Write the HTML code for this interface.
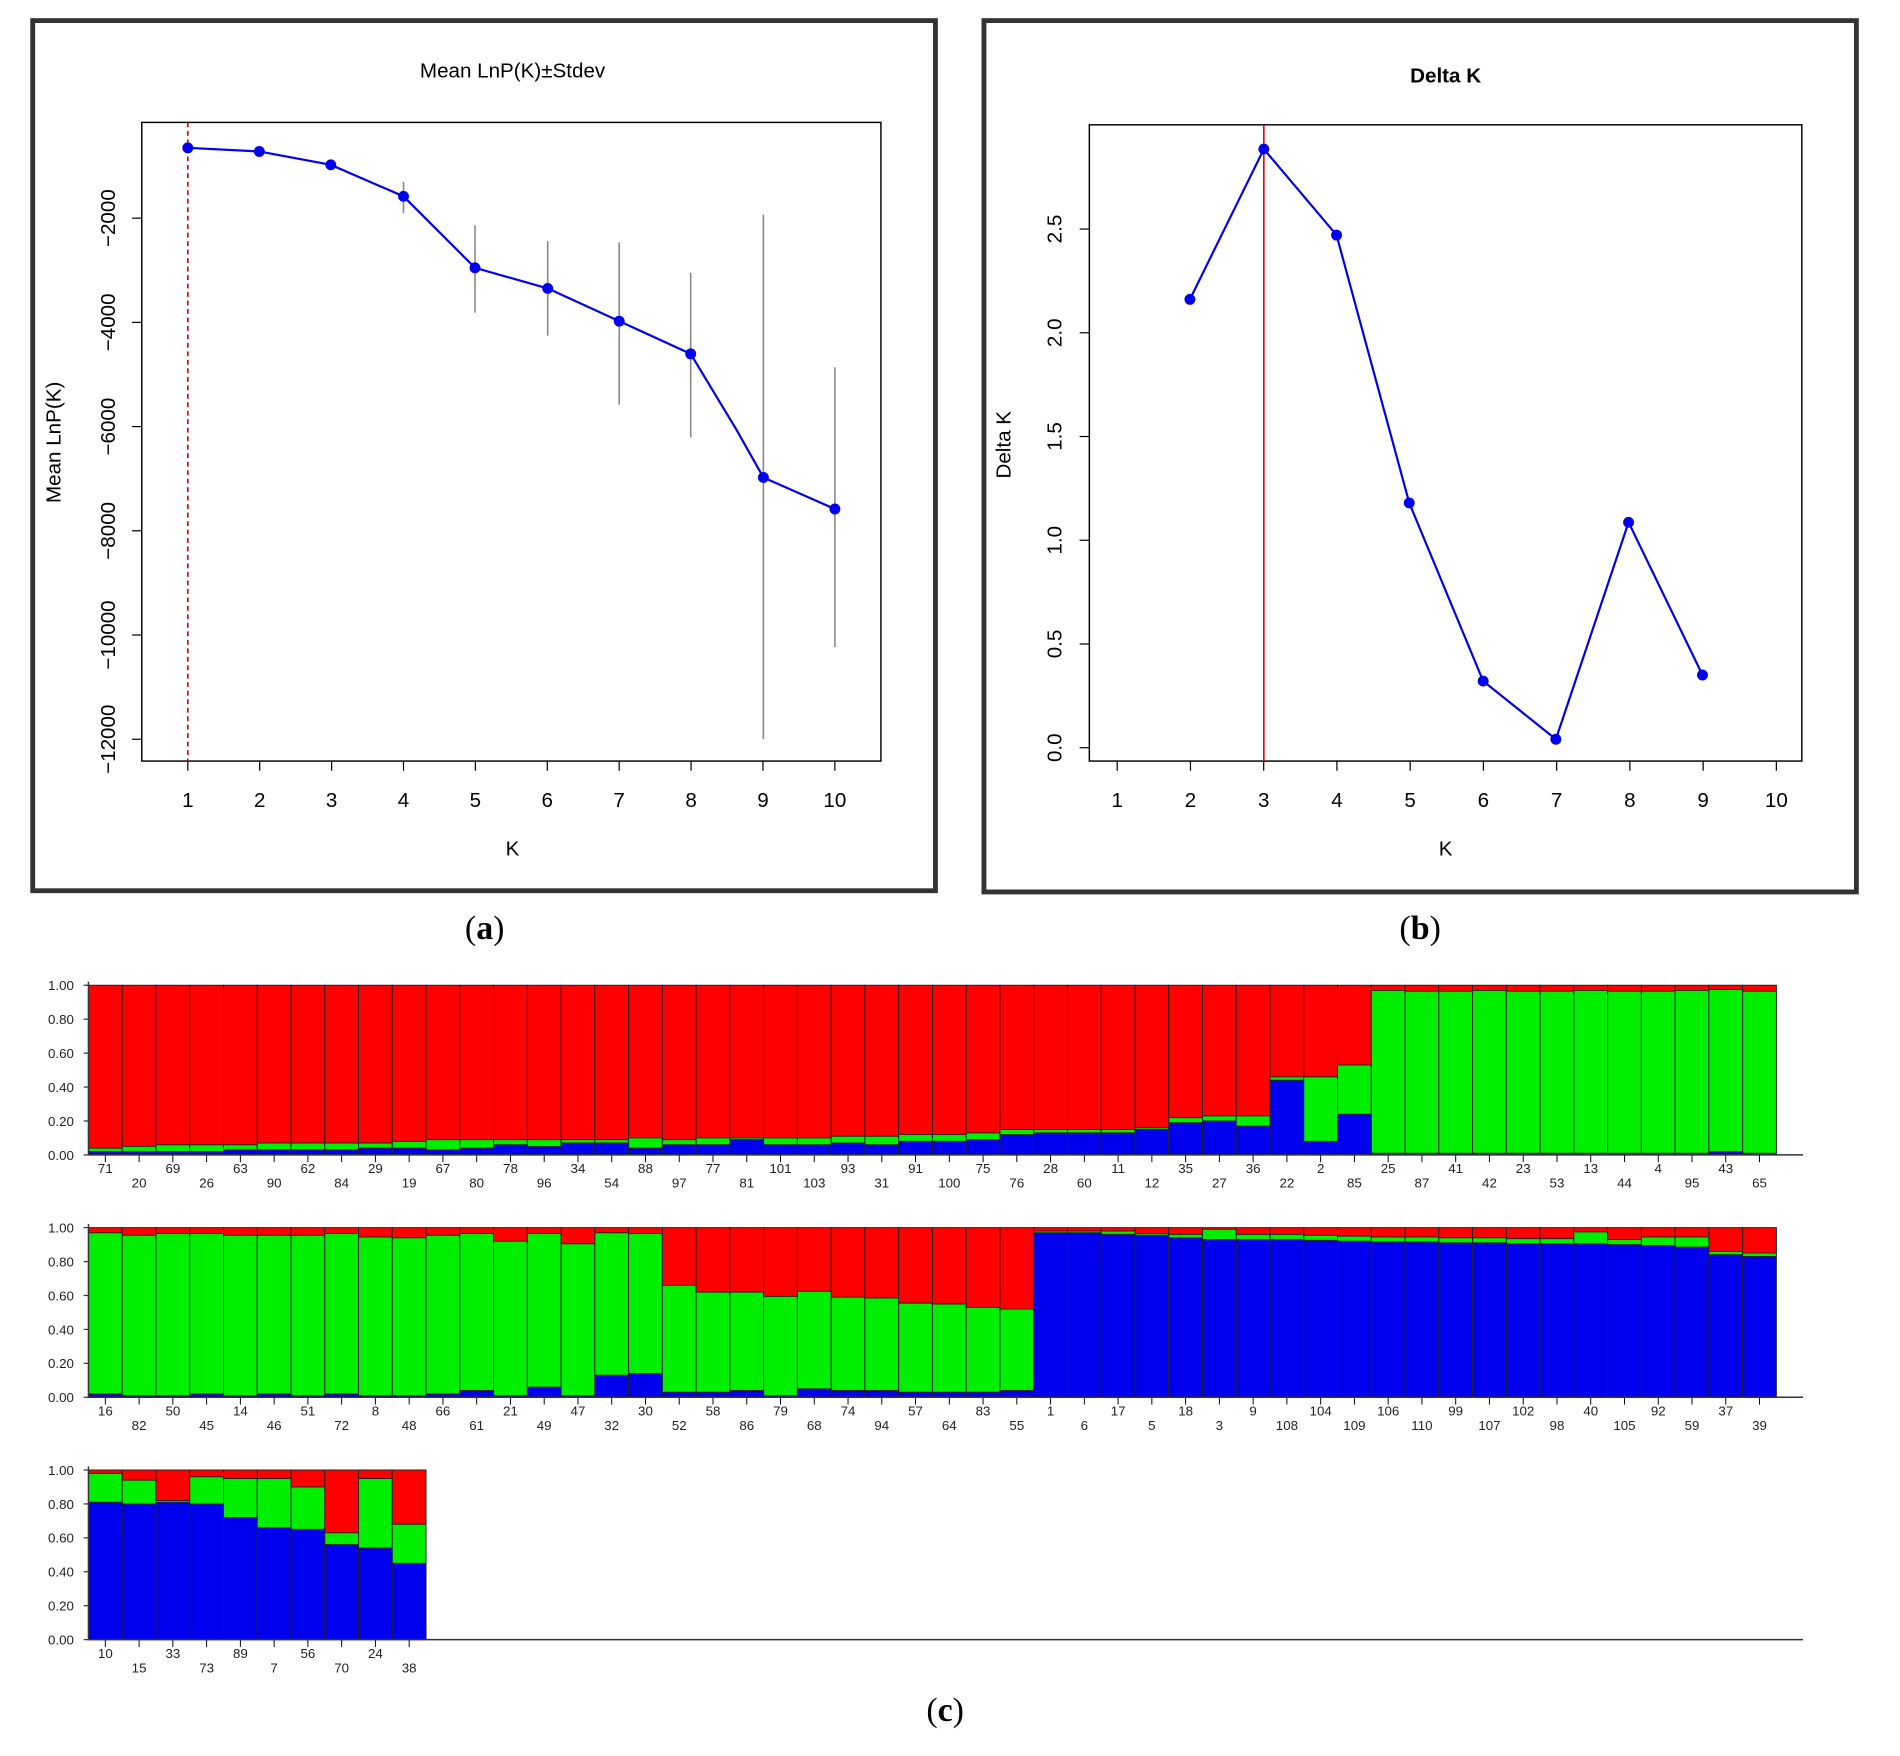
<!DOCTYPE html>
<html><head><meta charset="utf-8">
<style>html,body{margin:0;padding:0;background:#fff}svg{display:block}</style></head>
<body>
<svg id="s" xmlns="http://www.w3.org/2000/svg" width="1900" height="1756" viewBox="0 0 1568 1449" preserveAspectRatio="none" font-family="Liberation Sans, sans-serif">
<rect width="1568" height="1449" fill="#fff"/>
<!-- panel a -->
<rect x="27" y="17" width="745" height="718" fill="none" stroke="#333" stroke-width="4"/>
<text x="423" y="64" font-size="17" text-anchor="middle">Mean LnP(K)±Stdev</text>
<rect x="117" y="101" width="610" height="527" fill="none" stroke="#000" stroke-width="1.2"/>
<line x1="155" y1="101" x2="155" y2="628" stroke="#c00" stroke-width="1.3" stroke-dasharray="4,3"/>
<g id="aerr" stroke="#888" stroke-width="1.3"></g>
<polyline fill="none" stroke="#0000ee" stroke-width="1.8" points="155,122 214,125 273,136 333,162 392,221 452,238 511,265 570,292 608,355 630,394 689,420"/>
<g id="apts" fill="#0000ee"></g>
<g id="axa" font-size="17" text-anchor="middle"></g>
<text x="423" y="706" font-size="17" text-anchor="middle">K</text>
<text transform="translate(50,365) rotate(-90)" font-size="17" text-anchor="middle">Mean LnP(K)</text>
<!-- panel b -->
<rect x="812" y="17" width="720" height="719" fill="none" stroke="#333" stroke-width="4"/>
<text x="1193" y="68" font-size="17" font-weight="bold" text-anchor="middle">Delta K</text>
<rect x="899" y="103" width="588" height="525" fill="none" stroke="#000" stroke-width="1.2"/>
<line x1="1043" y1="103" x2="1043" y2="628" stroke="#d00" stroke-width="1.3"/>
<polyline fill="none" stroke="#0000ee" stroke-width="1.8" points="982,247 1043,123 1103,194 1163,415 1224,562 1284,610 1344,431 1405,557"/>
<g id="bpts" fill="#0000ee"></g>
<g id="axb" font-size="17" text-anchor="middle"></g>
<text x="1193" y="706" font-size="17" text-anchor="middle">K</text>
<text transform="translate(834,367) rotate(-90)" font-size="17" text-anchor="middle">Delta K</text>
<g font-family="Liberation Serif, serif" font-size="28" text-anchor="middle">
<text x="400" y="775">(<tspan font-weight="bold">a</tspan>)</text>
<text x="1172" y="775">(<tspan font-weight="bold">b</tspan>)</text>
<text x="780" y="1420">(<tspan font-weight="bold">c</tspan>)</text>
</g>
<g id="bars"></g>
</svg>
<script>
var NS="http://www.w3.org/2000/svg";
function el(p,t,a,txt){var e=document.createElementNS(NS,t);for(var k in a)e.setAttribute(k,a[k]);if(txt!==undefined)e.textContent=txt;document.getElementById(p).appendChild(e);return e;}
var ap=[[155,122],[214,125],[273,136],[333,162],[392,221],[452,238],[511,265],[570,292],[630,394],[689,420]];
var er=[[333,150,176],[392,186,258],[452,199,277],[511,200,334],[570,225,361],[630,177,610],[689,303,534]];
er.forEach(function(e){el("aerr","line",{x1:e[0],x2:e[0],y1:e[1],y2:e[2]});});
ap.forEach(function(p){el("apts","circle",{cx:p[0],cy:p[1],r:4.5});});
for(var i=0;i<10;i++){var x=155+i*59.33;el("axa","line",{x1:x,x2:x,y1:628,y2:636,stroke:"#000"});el("axa","text",{x:x,y:666},String(i+1));}
var yl=[-2000,-4000,-6000,-8000,-10000,-12000];
yl.forEach(function(v,i){var y=180+i*86;el("axa","line",{x1:109,x2:117,y1:y,y2:y,stroke:"#000"});el("axa","text",{transform:"translate(95,"+y+") rotate(-90)"},"\u2212"+String(-v));});
[[982,247],[1043,123],[1103,194],[1163,415],[1224,562],[1284,610],[1344,431],[1405,557]].forEach(function(p){el("bpts","circle",{cx:p[0],cy:p[1],r:4.5});});
for(var i=0;i<10;i++){var x=922+i*60.44;el("axb","line",{x1:x,x2:x,y1:628,y2:636,stroke:"#000"});el("axb","text",{x:x,y:666},String(i+1));}
for(var i=0;i<6;i++){var y=617-i*85.6;el("axb","line",{x1:891,x2:899,y1:y,y2:y,stroke:"#000"});el("axb","text",{transform:"translate(876,"+y+") rotate(-90)"},(i*0.5).toFixed(1));}
var r1=[["71",.02,.02],["20",.02,.03],["69",.02,.04],["26",.02,.04],["63",.03,.03],["90",.03,.04],["62",.03,.04],["84",.03,.04],["29",.04,.03],["19",.04,.04],["67",.03,.06],["80",.04,.05],["78",.06,.03],["96",.05,.04],["34",.07,.02],["54",.07,.02],["88",.04,.06],["97",.06,.03],["77",.06,.04],["81",.09,.01],["101",.06,.04],["103",.06,.04],["93",.07,.04],["31",.06,.05],["91",.08,.04],["100",.08,.04],["75",.09,.04],["76",.12,.03],["28",.13,.02],["60",.13,.02],["11",.13,.02],["12",.15,.01],["35",.19,.03],["27",.20,.03],["36",.17,.06],["22",.44,.02],["2",.08,.38],["85",.24,.29]];
["25","87","41","42","23","53","13","44","4","95","43","65"].forEach(function(l,i){r1.push([l,i==10?.02:.01,i%3==0?.96:.955]);});
var r2=[];
["16","82","50","45","14","46","51","72","8","48","66","61"].forEach(function(l,i){var b=[.02,.01,.01,.02,.01,.02,.01,.02,.01,.01,.02,.04][i];var t=[.97,.955,.965,.965,.955,.955,.955,.965,.945,.94,.955,.965][i];r2.push([l,b,t-b]);});
[["21",.01,.92],["49",.06,.965],["47",.01,.905],["32",.13,.97],["30",.14,.965],["52",.03,.66],["58",.03,.62],["86",.04,.62],["79",.01,.595],["68",.05,.625],["74",.04,.59],["94",.04,.585],["57",.03,.555],["64",.03,.55],["83",.03,.53],["55",.04,.52]].forEach(function(a){r2.push([a[0],a[1],a[2]-a[1]]);});
var bl=["1","6","17","5","18","3","9","108","104","109","106","110","99","107","102","98","40","105","92","59","37","39"];
var bv=[.97,.97,.96,.955,.94,.93,.93,.93,.925,.92,.915,.915,.91,.91,.905,.905,.905,.90,.895,.885,.84,.83];
var gv=[.01,.01,.02,.01,.02,.06,.03,.03,.03,.03,.03,.03,.03,.03,.03,.03,.07,.03,.05,.06,.02,.02];
bl.forEach(function(l,i){r2.push([l,bv[i],gv[i]]);});
var r3=[["10",.81,.17],["15",.80,.14],["33",.81,.01],["73",.80,.16],["89",.72,.23],["7",.66,.29],["56",.65,.25],["70",.56,.07],["24",.54,.41],["38",.45,.23]];
function row(data,top,axisEnd){
  var H=140,bot=top+H,w=27.86,x0=73;
  var g="bars";
  data.forEach(function(d,i){
    var x=x0+i*w,hb=d[1]*H,hg=d[2]*H;
    el(g,"rect",{x:x,y:top,width:w,height:H,fill:"#ff0000"});
    el(g,"rect",{x:x,y:bot-hb-hg,width:w,height:hg,fill:"#00ee00"});
    el(g,"rect",{x:x,y:bot-hb,width:w,height:hb,fill:"#0000ee"});
    el(g,"line",{x1:x,x2:x+w,y1:bot-hb-hg,y2:bot-hb-hg,stroke:"#222","stroke-width":.8});
    el(g,"line",{x1:x,x2:x+w,y1:bot-hb,y2:bot-hb,stroke:"#222","stroke-width":.8});
    el(g,"rect",{x:x,y:top,width:w,height:H,fill:"none",stroke:"#222","stroke-width":.8});
    var cx=x+w/2;
    el(g,"line",{x1:cx,x2:cx,y1:bot,y2:bot+6,stroke:"#000","stroke-width":.8});
    el(g,"text",{x:cx,y:bot+(i%2?27:15),"font-size":"11","text-anchor":"middle",fill:"#222"},d[0]);
  });
  el(g,"line",{x1:x0,x2:axisEnd,y1:bot,y2:bot,stroke:"#333","stroke-width":1.2});
  el(g,"line",{x1:x0,x2:x0,y1:top-3,y2:bot,stroke:"#333","stroke-width":1.2});
  for(var k=0;k<6;k++){var y=bot-k*H/5;el(g,"line",{x1:x0-4,x2:x0,y1:y,y2:y,stroke:"#333"});
    el(g,"text",{x:x0-12,y:y+4,"font-size":"11","text-anchor":"end",fill:"#222"},(k*0.2).toFixed(2));}
}
row(r1,813,1488);row(r2,1013,1488);row(r3,1213,1488);
</script>
</body></html>
